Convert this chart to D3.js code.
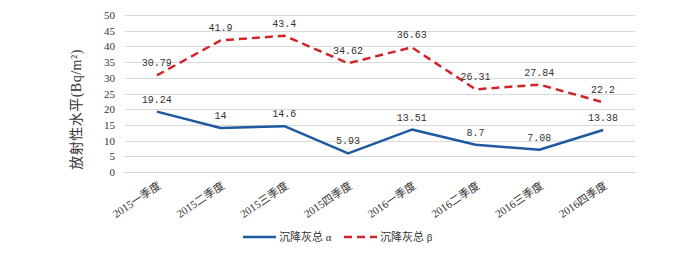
<!DOCTYPE html>
<html>
<head>
<meta charset="utf-8">
<script src="https://cdn.jsdelivr.net/npm/d3@7"></script>
<style>
  body { margin: 0; background: #fff; }
  .axis text { font-family: "Liberation Serif", "Noto Sans CJK SC", serif; font-size: 11px; fill: #333; }
  .grid line { stroke: #d9d9d9; stroke-width: 1; }
  .value-label { font-family: "Liberation Mono", monospace; font-size: 10px; fill: #333; }
  .legend-label { font-family: "Liberation Serif", "Noto Sans CJK SC", serif; font-size: 11px; fill: #333; }
</style>
</head>
<body>
<div id="chart"></div>
<script>
// quarters on the x axis
const quarters = ["2015一季度", "2015二季度", "2015三季度", "2015四季度",
                  "2016一季度", "2016二季度", "2016三季度", "2016四季度"];

// 沉降灰总α
const alphaValues = [19.24, 14, 14.6, 5.93, 13.51, 8.7, 7.08, 13.38];
const alphaLabels = ["19.24", "14", "14.6", "5.93", "13.51", "8.7", "7.08", "13.38"];

// 沉降灰总β (2016一季度 point sits higher than its label in the original)
const betaValues = [30.79, 41.9, 43.4, 34.62, 39.7, 26.31, 27.84, 22.2];
const betaLabels = ["30.79", "41.9", "43.4", "34.62", "36.63", "26.31", "27.84", "22.2"];

const yTicks = [0, 5, 10, 15, 20, 25, 30, 35, 40, 45, 50];
const seriesNames = ["沉降灰总 α", "沉降灰总 β"];

const width = 700;
const height = 256;
const margin = {top: 15, left: 125, right: 65, bottom: 84};

const svg = d3.select("#chart")
  .append("svg")
  .attr("width", width)
  .attr("height", height);

// scales
const xScale = d3.scaleBand()
  .domain(quarters)
  .range([margin.left, width - margin.right]);

const yScale = d3.scaleLinear()
  .domain([0, 50])
  .range([height - margin.bottom, margin.top]);

const cx = d => xScale(d) + xScale.bandwidth() / 2;

// grid
svg.append("g")
  .attr("class", "grid")
  .selectAll("line")
  .data(yTicks)
  .enter()
  .append("line")
    .attr("x1", margin.left)
    .attr("x2", width - margin.right)
    .attr("y1", d => Math.round(yScale(d)) + 0.5)
    .attr("y2", d => Math.round(yScale(d)) + 0.5);

// y axis labels
const yAxis = svg.append("g")
  .attr("class", "axis")
  .attr("transform", `translate(${margin.left - 8},0)`)
  .call(d3.axisLeft(yScale).tickValues(yTicks).tickSize(0).tickPadding(2));
yAxis.select(".domain").remove();

// x axis labels, rotated
const xAxis = svg.append("g")
  .attr("class", "axis")
  .attr("transform", `translate(0,${height - margin.bottom})`)
  .call(d3.axisBottom(xScale).tickSize(0));
xAxis.select(".domain").remove();
xAxis.selectAll("text")
  .attr("text-anchor", "end")
  .attr("dy", 0)
  .attr("transform", "translate(3,13) rotate(-34)");

// y title
svg.append("text")
  .attr("transform", `translate(81,${(margin.top + height - margin.bottom) / 2 + 16}) rotate(-90)`)
  .attr("text-anchor", "middle")
  .style("font-family", "'Liberation Serif', 'Noto Sans CJK SC', serif")
  .style("font-size", "14px")
  .style("letter-spacing", "0.5px")
  .style("fill", "#333")
  .text("放射性水平(Bq/m²)");

// lines
const line = d3.line()
  .x((d, i) => cx(quarters[i]))
  .y(d => yScale(d));

svg.append("path")
  .datum(alphaValues)
  .attr("fill", "none")
  .attr("stroke", "#1f5aa0")
  .attr("stroke-width", 2.5)
  .attr("stroke-linejoin", "round")
  .attr("d", line);

svg.append("path")
  .datum(betaValues)
  .attr("fill", "none")
  .attr("stroke", "#d0262a")
  .attr("stroke-width", 2.5)
  .attr("stroke-dasharray", "8,5")
  .attr("d", line);

// value labels
svg.selectAll(".alpha-label")
  .data(alphaValues)
  .enter()
  .append("text")
    .attr("class", "value-label")
    .attr("text-anchor", "middle")
    .attr("x", (d, i) => cx(quarters[i]))
    .attr("y", d => yScale(d) - 9)
    .text((d, i) => alphaLabels[i]);

svg.selectAll(".beta-label")
  .data(betaValues)
  .enter()
  .append("text")
    .attr("class", "value-label")
    .attr("text-anchor", "middle")
    .attr("x", (d, i) => cx(quarters[i]))
    .attr("y", d => yScale(d) - 9)
    .text((d, i) => betaLabels[i]);

// legend
const legend = svg.append("g").attr("transform", "translate(243,237)");
const legendStyles = [
  {stroke: "#1f5aa0", dash: null, x: 0},
  {stroke: "#d0262a", dash: "8,5", x: 101}
];
seriesNames.forEach(function(name, i) {
  const s = legendStyles[i];
  legend.append("line")
    .attr("x1", s.x).attr("x2", s.x + 33)
    .attr("y1", 0).attr("y2", 0)
    .attr("stroke", s.stroke)
    .attr("stroke-width", 2.5)
    .attr("stroke-dasharray", s.dash);
  legend.append("text")
    .attr("class", "legend-label")
    .attr("x", s.x + 36)
    .attr("y", 4)
    .text(name);
});
</script>
</body>
</html>
